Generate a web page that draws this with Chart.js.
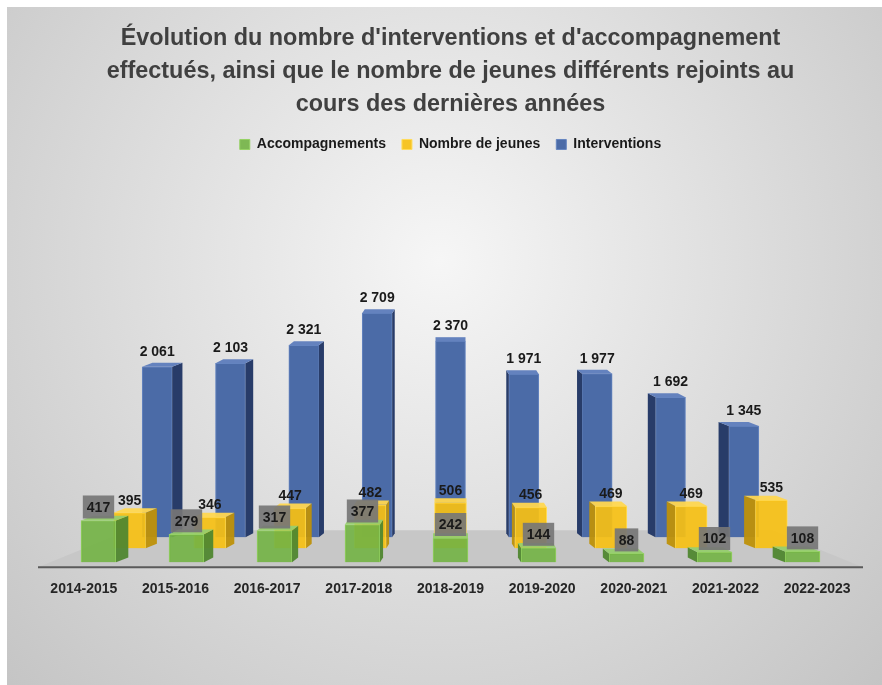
<!DOCTYPE html>
<html lang="fr">
<head>
<meta charset="utf-8">
<title>Interventions et accompagnements</title>
<script src="https://cdn.jsdelivr.net/npm/chart.js@4.4.1/dist/chart.umd.min.js"></script>
<style>
  html, body { margin: 0; padding: 0; background: #fff; }
  #wrap { width: 882px; height: 685px; }
</style>
</head>
<body>
<div id="wrap"><canvas id="myChart"></canvas></div>
<script>
const categories = ["2014-2015", "2015-2016", "2016-2017", "2017-2018", "2018-2019",
                    "2019-2020", "2020-2021", "2021-2022", "2022-2023"];
const accompagnements = [417, 279, 317, 377, 242, 144, 88, 102, 108];
const jeunes = [395, 346, 447, 482, 506, 456, 469, 469, 535];
const interventions = [2061, 2103, 2321, 2709, 2370, 1971, 1977, 1692, 1345];

const titleLines = [
    "Évolution du nombre d'interventions et d'accompagnement",
    "effectués, ainsi que le nombre de jeunes différents rejoints au",
    "cours des dernières années"
];

const FONT = '"Liberation Sans", Arial, sans-serif';
Chart.defaults.font.family = FONT;

// fake 3D : three rows on a floor, front (green), middle (yellow), back (blue)
// scale = horizontal shrink toward the centre, lift = px above the axis, px = pixels per unit
const rows = [
    { scale: 0.96, lift: 5, px: 0.100 },
    { scale: 0.875, lift: 19, px: 0.090 },
    { scale: 0.80, lift: 30, px: 0.0827 }
];
const n = categories.length;

function xRange(r) {
    return { min: (n - 1) / 2 - n / (2 * r.scale), max: (n - 1) / 2 + n / (2 * r.scale) };
}
function points(values) {
    return values.map((v, i) => ({ x: i, y: v }));
}
function fmt(v) {
    return String(v).replace(/\B(?=(\d{3})+(?!\d))/g, " ");
}

const faces = [
    { side: "rgba(80,135,48,0.95)", top: "rgba(150,205,110,0.95)" },
    { side: "rgba(190,145,10,0.95)", top: "rgba(255,215,80,0.95)" },
    { side: "rgba(40,60,105,1)", top: "rgba(100,130,190,1)" }
];

const fake3d = {
    id: "fake3d",
    afterLayout(chart) {
        // each row gets its own baseline and its own pixels-per-unit
        const h = chart.chartArea.bottom - chart.chartArea.top;
        rows.forEach((r, i) => {
            const s = chart.scales["y" + i];
            s.min = -r.lift / r.px;
            s.max = (h - r.lift) / r.px;
            s.configure();
        });
    },
    beforeDraw(chart) {
        const ctx = chart.ctx;
        ctx.save();
        ctx.fillStyle = "#ffffff";
        ctx.fillRect(0, 0, chart.width, chart.height);
        const g = ctx.createRadialGradient(440, 260, 0, 440, 260, 640);
        g.addColorStop(0, "#f6f6f6");
        g.addColorStop(1, "#c2c2c2");
        ctx.fillStyle = g;
        ctx.fillRect(7, 7, chart.width - 7, chart.height - 7);
        ctx.restore();
    },
    beforeDatasetsDraw(chart) {
        // grey floor + axis line
        const ctx = chart.ctx;
        const a = chart.chartArea;
        const cx = (a.left + a.right) / 2;
        const backY = chart.scales.y2.getPixelForValue(0) - 7;
        const k = rows[2].scale - 0.02;
        ctx.save();
        ctx.beginPath();
        ctx.moveTo(a.left, a.bottom);
        ctx.lineTo(cx + (a.left - cx) * k, backY);
        ctx.lineTo(cx + (a.right - cx) * k, backY);
        ctx.lineTo(a.right, a.bottom);
        ctx.closePath();
        ctx.fillStyle = "#c7c7c7";
        ctx.fill();
        ctx.strokeStyle = "#5a5a5a";
        ctx.lineWidth = 2;
        ctx.beginPath();
        ctx.moveTo(a.left, a.bottom);
        ctx.lineTo(a.right, a.bottom);
        ctx.stroke();
        ctx.restore();
    },
    afterDatasetDraw(chart, args) {
        // side and top faces of each box
        const ctx = chart.ctx;
        const a = chart.chartArea;
        const cx = (a.left + a.right) / 2;
        const r = rows[args.index];
        const f = faces[args.index];
        ctx.save();
        args.meta.data.forEach((bar) => {
            const p = bar.getProps(["x", "y", "base", "width"], true);
            const left = p.x - p.width / 2;
            const right = p.x + p.width / 2;
            const dx = (cx - p.x) * 0.035;
            const dy = -5 * r.scale;
            const edge = dx > 0 ? right : left;
            ctx.fillStyle = f.side;
            ctx.beginPath();
            ctx.moveTo(edge, p.y);
            ctx.lineTo(edge + dx, p.y + dy);
            ctx.lineTo(edge + dx, p.base + dy);
            ctx.lineTo(edge, p.base);
            ctx.closePath();
            ctx.fill();
            ctx.fillStyle = f.top;
            ctx.beginPath();
            ctx.moveTo(left, p.y);
            ctx.lineTo(right, p.y);
            ctx.lineTo(right + dx, p.y + dy);
            ctx.lineTo(left + dx, p.y + dy);
            ctx.closePath();
            ctx.fill();
        });
        ctx.restore();
    },
    afterDatasetsDraw(chart) {
        // value labels, green ones in a grey box
        const ctx = chart.ctx;
        ctx.save();
        ctx.font = "bold 14px " + FONT;
        ctx.textAlign = "center";
        ctx.textBaseline = "middle";
        [2, 1, 0].forEach((di) => {
            const meta = chart.getDatasetMeta(di);
            const values = chart.data.datasets[di].data;
            meta.data.forEach((bar, i) => {
                const p = bar.getProps(["x", "y"], true);
                const txt = fmt(values[i].y);
                if (di === 0) {
                    const w = ctx.measureText(txt).width + 8;
                    const cy = p.y - 13.5;
                    ctx.fillStyle = "rgba(118,118,118,0.92)";
                    ctx.fillRect(p.x - w / 2, cy - 11.5, w, 23);
                    ctx.fillStyle = "#1a1a1a";
                    ctx.fillText(txt, p.x, cy + 1);
                } else {
                    ctx.fillStyle = "#1a1a1a";
                    ctx.fillText(txt, p.x, p.y - (di === 2 ? 15 : 12));
                }
            });
        });
        ctx.restore();
    }
};

const myChart = new Chart(document.getElementById("myChart").getContext("2d"), {
    type: "bar",
    data: {
        labels: categories,
        datasets: [
            {
                label: "Accompagnements",
                data: points(accompagnements),
                xAxisID: "x0", yAxisID: "y0",
                grouped: false,
                backgroundColor: "rgba(114,178,68,0.9)",
                borderColor: "rgba(150,210,100,1)",
                borderWidth: 1,
                barThickness: 35
            },
            {
                label: "Nombre de jeunes",
                data: points(jeunes),
                xAxisID: "x1", yAxisID: "y1",
                grouped: false,
                backgroundColor: "rgba(246,192,20,0.92)",
                borderColor: "rgba(255,220,90,1)",
                borderWidth: 1,
                barThickness: 32
            },
            {
                label: "Interventions",
                data: points(interventions),
                xAxisID: "x2", yAxisID: "y2",
                grouped: false,
                backgroundColor: "#4b6ba7",
                borderColor: "#6585c0",
                borderWidth: 1,
                barThickness: 30
            }
        ]
    },
    options: {
        responsive: true,
        maintainAspectRatio: false,
        animation: false,
        layout: { padding: { top: 7, left: 38, right: 19, bottom: 73 } },
        plugins: {
            title: {
                display: true,
                text: titleLines,
                color: "#404040",
                font: { size: 23.4, weight: "bold", lineHeight: 1.41 },
                padding: { top: 15.5, bottom: 0 }
            },
            legend: {
                position: "top",
                labels: {
                    boxWidth: 10,
                    boxHeight: 10,
                    padding: 16,
                    color: "#1a1a1a",
                    font: { size: 14, weight: "bold" }
                }
            },
            tooltip: { enabled: false }
        },
        scales: {
            x: {
                type: "category",
                labels: categories,
                min: categories[0],
                max: categories[n - 1],
                offset: true,
                grid: { display: false, drawTicks: false },
                border: { display: false },
                ticks: { padding: 14, color: "#262626", font: { size: 14, weight: "bold" } }
            },
            x0: { type: "linear", display: false, offset: false, ...xRange(rows[0]) },
            x1: { type: "linear", display: false, offset: false, ...xRange(rows[1]) },
            x2: { type: "linear", display: false, offset: false, ...xRange(rows[2]) },
            y0: { type: "linear", display: false },
            y1: { type: "linear", display: false },
            y2: { type: "linear", display: false }
        }
    },
    plugins: [fake3d]
});
</script>
</body>
</html>
